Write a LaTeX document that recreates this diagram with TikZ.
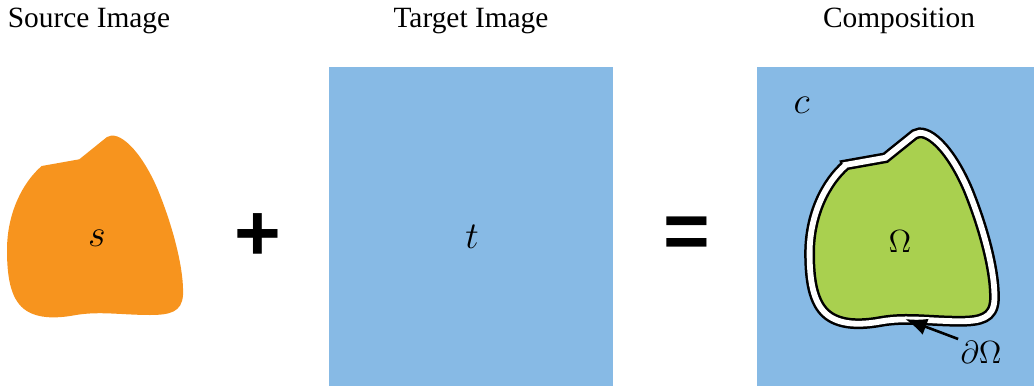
\RequirePackage{fix-cm}
\documentclass[tikz,border=0pt]{standalone}
\usepackage{fontspec}
\setmainfont{Liberation Serif}
\setsansfont{Liberation Sans}
\usetikzlibrary{arrows.meta,positioning}
\definecolor{srcorange}{HTML}{F7941E}
\definecolor{tgtblue}{HTML}{87BAE5}
\definecolor{omegagreen}{HTML}{A9D04F}
% contorno de la region (coordenadas en pixeles)
\newcommand{\blobpath}{(41.7,166) -- (79.3,159.3) -- (107,137)
    .. controls (118,130) and (140,148) .. (158,190)
    .. controls (175,232) and (184,272) .. (183,295)
    .. controls (182,312) and (170,315) .. (150,315)
    .. controls (122,315) and (100,311) .. (76,315)
    .. controls (60,318) and (38,320) .. (24,309)
    .. controls (10,298) and (7,275) .. (7,250)
    .. controls (7,214) and (22,183) .. cycle}
\tikzset{
    title/.style={
        font=\fontsize{14.7}{17}\selectfont, % titulos en serif
        anchor=base,                         % alineados por la linea base
        inner sep=0pt
    },
    imagebox/.style={
        rectangle,
        fill=tgtblue,      % azul claro de la imagen destino
        draw=none,
        inner sep=0pt,
        anchor=north west
    },
    mathlabel/.style={
        font=\fontsize{19}{22}\selectfont, % letras s, t, c
        inner sep=0pt
    },
    omegalabel/.style={
        font=\fontsize{16}{19}\selectfont, % region y su borde
        inner sep=1pt
    },
    opsign/.style={
        font=\fontsize{40}{40}\selectfont\sffamily\bfseries, % signos + y =
        inner sep=0pt
    },
    boundary/.style={
        draw=black,
        line width=1.25pt,
        double=white,      % banda blanca entre dos lineas negras
        double distance=2.9pt
    }
}

\begin{document}
\begin{tikzpicture}[x=0.5pt, y=-0.5pt]
    \useasboundingbox (0,0) rectangle (1034,386);

    \node[title] (srctitle) at (89,27) {Source Image};
    \node[title] (tgttitle) at (471,27) {Target Image};
    \node[title] (comptitle) at (899,27) {Composition};

    \fill[srcorange] \blobpath;
    \node[mathlabel] (s) at (97,238) {$s$};

    \node[opsign] (plus) at (258.3,237) {+};

    \node[imagebox, minimum width=142pt, minimum height=159.5pt] (target) at (329,67) {};
    \node[mathlabel] (t) at (472,237) {$t$};

    \node[opsign] (equals) at (686.7,237.7) {=};

    \node[imagebox, minimum width=138.5pt, minimum height=159.5pt] (comp) at (757,67) {};
    \node[mathlabel] (c) at (801.5,105.5) {$c$};

    \begin{scope}[shift={(902,232)}, scale=1.05, shift={(-95,-230)}]
        \fill[omegagreen] \blobpath;
        \draw[boundary] \blobpath;
    \end{scope}
    \node[omegalabel] (omega) at (900,242) {$\Omega$};

    \node[omegalabel] (domega) at (981,352.5) {$\partial\Omega$};
    \coordinate (bandtip) at (905,319);
    \draw[-{Latex[length=11pt,width=8.5pt]}, line width=1.3pt] (domega.north west) -- (bandtip);
\end{tikzpicture}
\end{document}
